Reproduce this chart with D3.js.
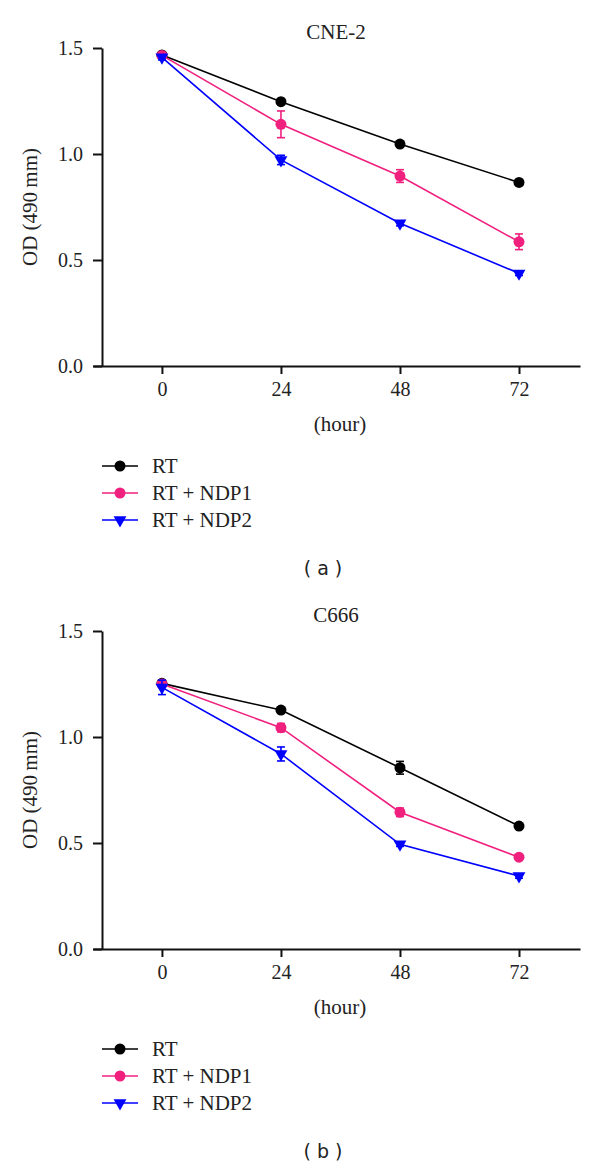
<!DOCTYPE html>
<html>
<head>
<meta charset="utf-8">
<script src="https://cdn.jsdelivr.net/npm/d3@7"></script>
<style>
  html, body { margin: 0; padding: 0; background: #fff; }
  svg { display: block; }
</style>
</head>
<body>
<script>
// ---------------- data ----------------
const hours = [0, 24, 48, 72];
const seriesNames = ["RT", "RT + NDP1", "RT + NDP2"];
const seriesColors = ["#000000", "#f0207f", "#0000ff"];
const seriesShapes = ["circle", "circle", "triangle"];
const yTicks = [0, 0.5, 1.0, 1.5];

// Panel (a) CNE-2
const cne2Title = "CNE-2";
const cne2RT      = [1.467, 1.247, 1.047, 0.866];
const cne2RTerr   = [0.008, 0.010, 0.010, 0.010];
const cne2NDP1    = [1.465, 1.140, 0.896, 0.586];
const cne2NDP1err = [0.010, 0.063, 0.030, 0.037];
const cne2NDP2    = [1.456, 0.972, 0.673, 0.437];
const cne2NDP2err = [0.012, 0.022, 0.012, 0.010];

// Panel (b) C666
const c666Title = "C666";
const c666RT      = [1.253, 1.127, 0.855, 0.580];
const c666RTerr   = [0.010, 0.010, 0.030, 0.010];
const c666NDP1    = [1.250, 1.044, 0.645, 0.433];
const c666NDP1err = [0.012, 0.020, 0.020, 0.010];
const c666NDP2    = [1.234, 0.920, 0.494, 0.344];
const c666NDP2err = [0.034, 0.033, 0.010, 0.010];

// ---------------- drawing ----------------
const W = 600, H = 1167;
const serif = "'Liberation Serif', 'Times New Roman', serif";

const svg = d3.select("body").append("svg")
  .attr("width", W).attr("height", H)
  .attr("viewBox", `0 0 ${W} ${H}`);

function drawPanel(offsetY, title, values, errors, panelLabel) {
  const g = svg.append("g").attr("transform", `translate(0,${offsetY})`);

  const x = d3.scaleLinear().domain([-13.9, 84.3]).range([93, 580]);
  const y = d3.scaleLinear().domain([0, 1.5]).range([366, 48]);

  // title
  g.append("text")
    .attr("x", 336).attr("y", 39)
    .attr("text-anchor", "middle")
    .attr("font-family", serif).attr("font-size", 21)
    .attr("fill", "#222")
    .text(title);

  // x axis
  const xAxis = g.append("g")
    .attr("transform", `translate(0,${y(0)})`)
    .call(d3.axisBottom(x).tickValues(hours).tickFormat(d3.format("d"))
      .tickSize(8).tickSizeOuter(0).tickPadding(8));
  xAxis.attr("font-family", serif);
  xAxis.select(".domain").attr("stroke", "#111").attr("stroke-width", 2);
  xAxis.selectAll(".tick line").attr("stroke", "#111").attr("stroke-width", 2);
  xAxis.selectAll(".tick text")
    .attr("font-family", serif).attr("font-size", 20).attr("fill", "#222");

  // y axis
  const yAxis = g.append("g")
    .attr("transform", `translate(102,0)`)
    .call(d3.axisLeft(y).tickValues(yTicks).tickFormat(d3.format(".1f"))
      .tickSize(9).tickSizeOuter(0).tickPadding(10));
  yAxis.attr("font-family", serif);
  yAxis.select(".domain").attr("stroke", "#111").attr("stroke-width", 2);
  yAxis.selectAll(".tick line").attr("stroke", "#111").attr("stroke-width", 2);
  yAxis.selectAll(".tick text")
    .attr("font-family", serif).attr("font-size", 20).attr("fill", "#222");

  // axis titles
  g.append("text")
    .attr("transform", `translate(37,${(y(0) + y(1.5)) / 2}) rotate(-90)`)
    .attr("text-anchor", "middle")
    .attr("font-family", serif).attr("font-size", 21).attr("fill", "#222")
    .text("OD (490\u2009mm)");

  g.append("text")
    .attr("x", 340).attr("y", y(0) + 65)
    .attr("text-anchor", "middle")
    .attr("font-family", serif).attr("font-size", 21).attr("fill", "#222")
    .text("(hour)");

  const line = d3.line().x((d, i) => x(hours[i])).y(d => y(d));

  function marker(sel, shape, color) {
    if (shape === "circle") {
      sel.attr("d", d3.symbol().type(d3.symbolCircle).size(95)());
    } else {
      sel.attr("d", d3.symbol().type(d3.symbolTriangle).size(72)());
    }
    sel.attr("fill", color);
  }

  values.forEach((vals, s) => {
    const color = seriesColors[s];
    const sg = g.append("g");
    sg.append("path").datum(vals)
      .attr("d", line)
      .attr("fill", "none").attr("stroke", color).attr("stroke-width", 1.6);

    // error bars
    vals.forEach((v, i) => {
      const e = errors[s][i];
      const cx = x(hours[i]);
      sg.append("line")
        .attr("x1", cx).attr("x2", cx).attr("y1", y(v - e)).attr("y2", y(v + e))
        .attr("stroke", color).attr("stroke-width", 1.6);
      [v - e, v + e].forEach(t => {
        sg.append("line")
          .attr("x1", cx - 4).attr("x2", cx + 4).attr("y1", y(t)).attr("y2", y(t))
          .attr("stroke", color).attr("stroke-width", 1.6);
      });
    });

    // markers
    vals.forEach((v, i) => {
      const p = sg.append("path");
      marker(p, seriesShapes[s], color);
      const rot = seriesShapes[s] === "triangle" ? " rotate(180)" : "";
      p.attr("transform", `translate(${x(hours[i])},${y(v)})${rot}`);
    });
  });

  // legend
  seriesNames.forEach((name, s) => {
    const ly = y(0) + 100 + s * 27;
    const color = seriesColors[s];
    g.append("line")
      .attr("x1", 102).attr("x2", 138).attr("y1", ly).attr("y2", ly)
      .attr("stroke", color).attr("stroke-width", 1.6);
    const p = g.append("path");
    marker(p, seriesShapes[s], color);
    const rot = seriesShapes[s] === "triangle" ? " rotate(180)" : "";
    p.attr("transform", `translate(120,${ly})${rot}`);
    g.append("text")
      .attr("x", 152).attr("y", ly + 7)
      .attr("font-family", serif).attr("font-size", 21).attr("fill", "#222")
      .text(name);
  });

  // panel label
  g.append("text")
    .attr("x", 323).attr("y", y(0) + 209)
    .attr("text-anchor", "middle")
    .attr("font-family", "'DejaVu Sans', sans-serif").attr("font-size", 19)
    .attr("fill", "#222")
    .attr("xml:space", "preserve")
    .text(panelLabel);
}

drawPanel(0, cne2Title,
  [cne2RT, cne2NDP1, cne2NDP2],
  [cne2RTerr, cne2NDP1err, cne2NDP2err], "( a )");

drawPanel(583, c666Title,
  [c666RT, c666NDP1, c666NDP2],
  [c666RTerr, c666NDP1err, c666NDP2err], "( b )");
</script>
</body>
</html>
